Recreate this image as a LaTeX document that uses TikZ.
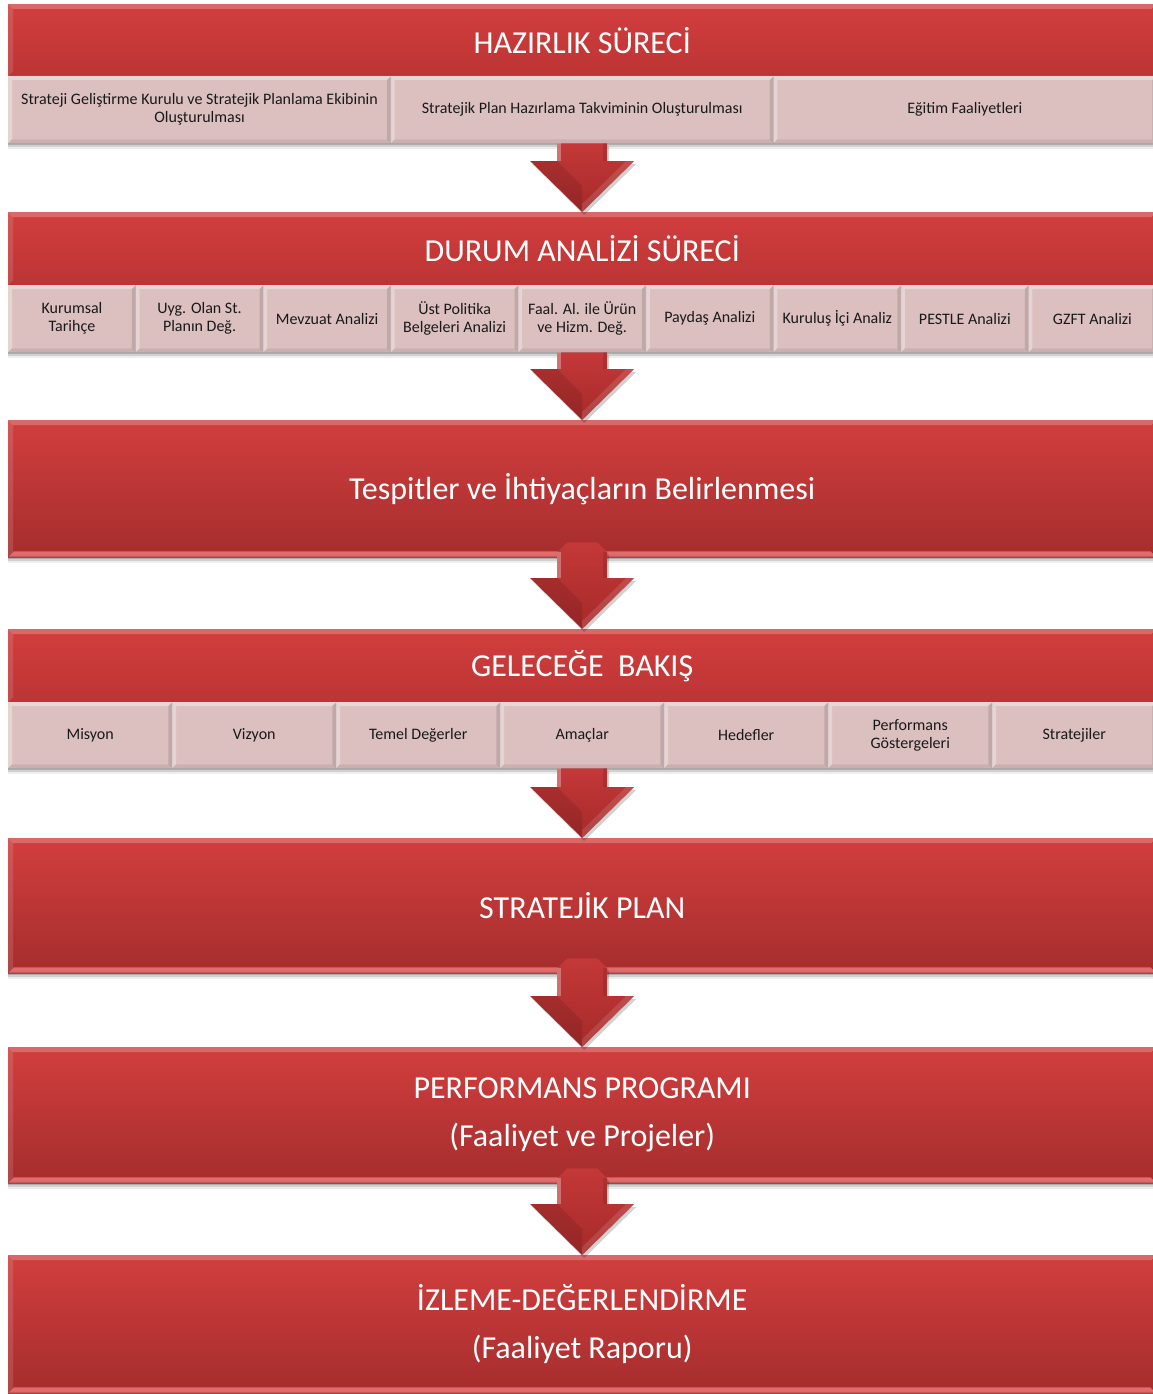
\documentclass[tikz,border=0pt]{standalone}
\usepackage{fontspec}
\setmainfont{Carlito}
\usetikzlibrary{calc,shadows}
\definecolor{redtop}{RGB}{210,62,62}
\definecolor{redbot}{RGB}{188,52,52}
\definecolor{redbotdeep}{RGB}{165,45,45}
\definecolor{subfill}{RGB}{220,192,192}
\definecolor{subtext}{RGB}{25,25,25}
\definecolor{arrtop}{RGB}{196,56,56}
\definecolor{arrbot}{RGB}{166,42,42}
\definecolor{pinkhl}{RGB}{238,118,118}
\newcommand\hdfont{\fontsize{32}{38}\selectfont}
\newcommand\hdfonttwo{\fontsize{32}{48}\selectfont}
\newcommand\subfont{\fontsize{16}{18}\selectfont}
\tikzset{
  softshadow/.style={
    drop shadow={shadow xshift=0pt, shadow yshift=-2pt, opacity=.16, fill=black},
    drop shadow={shadow xshift=0pt, shadow yshift=-4pt, opacity=.12, fill=black},
    drop shadow={shadow xshift=0pt, shadow yshift=-6pt, opacity=.07, fill=black}},
  hdr/.style={anchor=north west, inner sep=0pt, minimum width=1148pt, text=white,
    font=\hdfont, align=center, top color=redtop, bottom color=redbot, softshadow},
  tall/.style={hdr, bottom color=redbotdeep},
  subbox/.style={anchor=north west, inner sep=0pt, minimum height=67pt, fill=subfill,
    text=subtext, font=\subfont, align=center, softshadow},
  arrowsty/.style={top color=arrtop, bottom color=arrbot,
    drop shadow={shadow xshift=2pt, shadow yshift=-3pt, opacity=.18, fill=black}}
}
\newcommand\redbeveltop[1]{%
  \fill[white,opacity=.22] (#1.north west) -- (#1.north east) -- ([shift={(-5pt,-5pt)}]#1.north east) -- ([shift={(5pt,-5pt)}]#1.north west) -- cycle;
  \fill[white,opacity=.12] (#1.north west) -- ([shift={(5pt,-5pt)}]#1.north west) -- ([shift={(5pt,5pt)}]#1.south west) -- (#1.south west) -- cycle;
}
\newcommand\redbevel[1]{%
  \redbeveltop{#1}%
  \fill[pinkhl,opacity=.85] (#1.south west) -- ([shift={(6pt,6pt)}]#1.south west) -- ([shift={(-6pt,6pt)}]#1.south east) -- (#1.south east) -- cycle;
  \fill[black,opacity=.15] (#1.south west) -- ([shift={(1pt,1.5pt)}]#1.south west) -- ([shift={(-1pt,1.5pt)}]#1.south east) -- (#1.south east) -- cycle;
}
\newcommand\subbevel[1]{%
  \fill[white,opacity=.35] (#1.north west) -- (#1.north east) -- ([shift={(-4pt,-4pt)}]#1.north east) -- ([shift={(4pt,-4pt)}]#1.north west) -- cycle;
  \fill[white,opacity=.3] (#1.north west) -- ([shift={(4pt,-4pt)}]#1.north west) -- ([shift={(4pt,4pt)}]#1.south west) -- (#1.south west) -- cycle;
  \fill[black,opacity=.12] (#1.north east) -- ([shift={(-4pt,-4pt)}]#1.north east) -- ([shift={(-4pt,4pt)}]#1.south east) -- (#1.south east) -- cycle;
  \fill[black,opacity=.08] (#1.south west) -- ([shift={(4pt,4pt)}]#1.south west) -- ([shift={(-4pt,4pt)}]#1.south east) -- (#1.south east) -- cycle;
}
% block arrow: from, to, shaft top offset, chamfer
\newcommand\blockarrow[4]{%
  \path[arrowsty] let \p1=(#1.south), \p2=(#2.north) in
    (\x2-25pt,\y1+#3-#4) -- (\x2-25pt+#4,\y1+#3) -- (\x2+25pt-#4,\y1+#3) -- (\x2+25pt,\y1+#3-#4)
    -- (\x2+25pt,\y2+51pt) -- (\x2+52pt,\y2+51pt) -- (\x2,\y2) -- (\x2-52pt,\y2+51pt)
    -- (\x2-25pt,\y2+51pt) -- cycle;
  \fill[white,opacity=.3] let \p1=(#1.south), \p2=(#2.north) in
    (\x2-25pt,\y1+#3-#4) -- (\x2-21pt,\y1+#3-#4) -- (\x2-21pt,\y2+51pt) -- (\x2-25pt,\y2+51pt) -- cycle;
  \fill[black,opacity=.1] let \p1=(#1.south), \p2=(#2.north) in
    (\x2+25pt,\y1+#3-#4) -- (\x2+21pt,\y1+#3-#4) -- (\x2+21pt,\y2+51pt) -- (\x2+25pt,\y2+51pt) -- cycle;
  \fill[black,opacity=.1] let \p1=(#1.south), \p2=(#2.north) in
    (\x2,\y2) -- (\x2-52pt,\y2+51pt) -- (\x2-25pt,\y2+51pt) -- (\x2,\y2+26pt) -- cycle;
  \fill[white,opacity=.12] let \p1=(#1.south), \p2=(#2.north) in
    (\x2,\y2) -- (\x2+52pt,\y2+51pt) -- (\x2+44pt,\y2+51pt) -- (\x2,\y2+8pt) -- cycle;
}
\begin{document}
\begin{tikzpicture}[x=1pt,y=-1pt]
\fill[white] (0,0) rectangle (1152,1394);
\useasboundingbox (0,0) rectangle (1152,1394);

% Band 1
\node[hdr, minimum height=72pt] (h1) at (8,4) {HAZIRLIK SÜRECİ};
\redbeveltop{h1}
\node[subbox, minimum width=382.67pt] (s1a) at (8,76) {Strateji Geliştirme Kurulu ve Stratejik Planlama Ekibinin\\Oluşturulması};
\node[subbox, minimum width=382.67pt] (s1b) at (390.67,76) {Stratejik Plan Hazırlama Takviminin Oluşturulması};
\node[subbox, minimum width=382.67pt] (s1c) at (773.33,76) {Eğitim Faaliyetleri};
\subbevel{s1a}\subbevel{s1b}\subbevel{s1c}

% Band 2
\node[hdr, minimum height=73pt] (h2) at (8,212) {DURUM ANALİZİ SÜRECİ};
\redbeveltop{h2}
\node[subbox, minimum width=127.56pt] (s2a) at (8,285) {Kurumsal\\Tarihçe};
\node[subbox, minimum width=127.56pt] (s2b) at (135.56,285) {Uyg. Olan St.\\Planın Değ.};
\node[subbox, minimum width=127.56pt] (s2c) at (263.11,285) {Mevzuat Analizi};
\node[subbox, minimum width=127.56pt] (s2d) at (390.67,285) {Üst Politika\\Belgeleri Analizi};
\node[subbox, minimum width=127.56pt] (s2e) at (518.22,285) {Faal. Al. ile Ürün\\ve Hizm. Değ.};
\node[subbox, minimum width=127.56pt] (s2f) at (645.78,285) {Paydaş Analizi};
\node[subbox, minimum width=127.56pt] (s2g) at (773.33,285) {Kuruluş İçi Analiz};
\node[subbox, minimum width=127.56pt] (s2h) at (900.89,285) {PESTLE Analizi};
\node[subbox, minimum width=127.56pt] (s2i) at (1028.44,285) {GZFT Analizi};
\subbevel{s2a}\subbevel{s2b}\subbevel{s2c}\subbevel{s2d}\subbevel{s2e}
\subbevel{s2f}\subbevel{s2g}\subbevel{s2h}\subbevel{s2i}

% Band 3
\node[tall, minimum height=137pt] (b3) at (8,420) {Tespitler ve İhtiyaçların Belirlenmesi};
\redbevel{b3}

% Band 4
\node[hdr, minimum height=73pt] (h4) at (8,629) {GELECEĞE\ \ BAKIŞ};
\redbeveltop{h4}
\node[subbox, minimum width=164pt, minimum height=66pt] (s4a) at (8,702) {Misyon};
\node[subbox, minimum width=164pt, minimum height=66pt] (s4b) at (172,702) {Vizyon};
\node[subbox, minimum width=164pt, minimum height=66pt] (s4c) at (336,702) {Temel Değerler};
\node[subbox, minimum width=164pt, minimum height=66pt] (s4d) at (500,702) {Amaçlar};
\node[subbox, minimum width=164pt, minimum height=66pt] (s4e) at (664,702) {Hedefler};
\node[subbox, minimum width=164pt, minimum height=66pt] (s4f) at (828,702) {Performans\\Göstergeleri};
\node[subbox, minimum width=164pt, minimum height=66pt] (s4g) at (992,702) {Stratejiler};
\subbevel{s4a}\subbevel{s4b}\subbevel{s4c}\subbevel{s4d}
\subbevel{s4e}\subbevel{s4f}\subbevel{s4g}

% Band 5
\node[tall, minimum height=135pt] (b5) at (8,838) {STRATEJİK PLAN};
\redbevel{b5}

% Band 6
\node[tall, minimum height=136pt, font=\hdfonttwo] (b6) at (8,1047) {PERFORMANS PROGRAMI\\(Faaliyet ve Projeler)};
\redbevel{b6}

% Band 7
\node[tall, minimum height=138pt, font=\hdfonttwo] (b7) at (8,1255) {İZLEME-DEĞERLENDİRME\\(Faaliyet Raporu)};
\redbevel{b7}

% Arrows
\blockarrow{s1b}{h2}{0pt}{0pt}
\blockarrow{s2e}{b3}{0pt}{0pt}
\blockarrow{b3}{h4}{15pt}{10pt}
\blockarrow{s4d}{b5}{0pt}{0pt}
\blockarrow{b5}{b6}{15pt}{10pt}
\blockarrow{b6}{b7}{15pt}{10pt}
\end{tikzpicture}
\end{document}
